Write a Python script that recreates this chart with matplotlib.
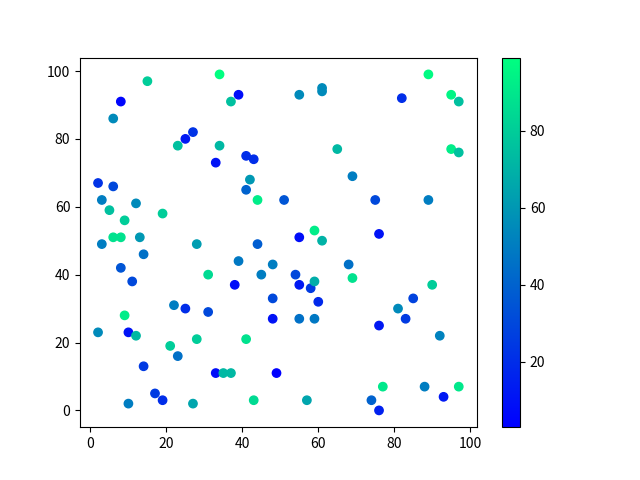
import matplotlib
matplotlib.use('Agg')
import matplotlib.pyplot as plt

plt.rcParams['font.family'] = ['Noto Sans CJK SC', 'DejaVu Sans']

x = [15, 34, 89, 8, 6, 37, 39, 55, 61, 61, 82, 95, 97, 25, 27, 23, 34, 33, 41, 43,
     65, 95, 97, 2, 6, 3, 12, 42, 41, 44, 51, 69, 75, 89, 5, 19, 9, 6, 8, 13,
     55, 59, 61, 76, 3, 14, 28, 39, 44, 8, 48, 11, 38, 45, 54, 55, 58, 59, 60, 68,
     69, 22, 25, 31, 31, 48, 48, 55, 59, 9, 10, 12, 2, 21, 23, 28, 41, 14, 33, 35,
     37, 49, 81, 83, 85, 90, 76, 92, 17, 19, 10, 27, 43, 57, 74, 76, 77, 88, 93, 97]
y = [97, 99, 99, 91, 86, 91, 93, 93, 95, 94, 92, 93, 91, 80, 82, 78, 78, 73, 75, 74,
     77, 77, 76, 67, 66, 62, 61, 68, 65, 62, 62, 69, 62, 62, 59, 58, 56, 51, 51, 51,
     51, 53, 50, 52, 49, 46, 49, 44, 49, 42, 43, 38, 37, 40, 40, 37, 36, 38, 32, 43,
     39, 31, 30, 29, 40, 33, 27, 27, 27, 28, 23, 22, 23, 19, 16, 21, 21, 13, 11, 11,
     11, 11, 30, 27, 33, 37, 25, 22, 5, 3, 2, 2, 3, 3, 3, 0, 7, 7, 4, 7]
c = [80, 99, 97, 5, 55, 75, 8, 55, 55, 55, 20, 95, 75, 12, 22, 75, 72, 10, 20, 20,
     72, 92, 75, 22, 30, 50, 55, 60, 40, 92, 35, 50, 30, 50, 75, 80, 80, 88, 88, 60,
     8, 92, 70, 10, 50, 45, 62, 48, 38, 35, 50, 30, 8, 50, 30, 12, 25, 68, 18, 45,
     88, 50, 20, 30, 85, 30, 10, 45, 48, 92, 10, 72, 55, 80, 45, 80, 88, 25, 8, 72,
     72, 3, 55, 25, 28, 80, 12, 52, 25, 20, 50, 65, 85, 65, 40, 15, 90, 50, 12, 90]

plt.scatter(x, y, c=c, cmap='winter')
plt.colorbar()
plt.savefig('out.png')
